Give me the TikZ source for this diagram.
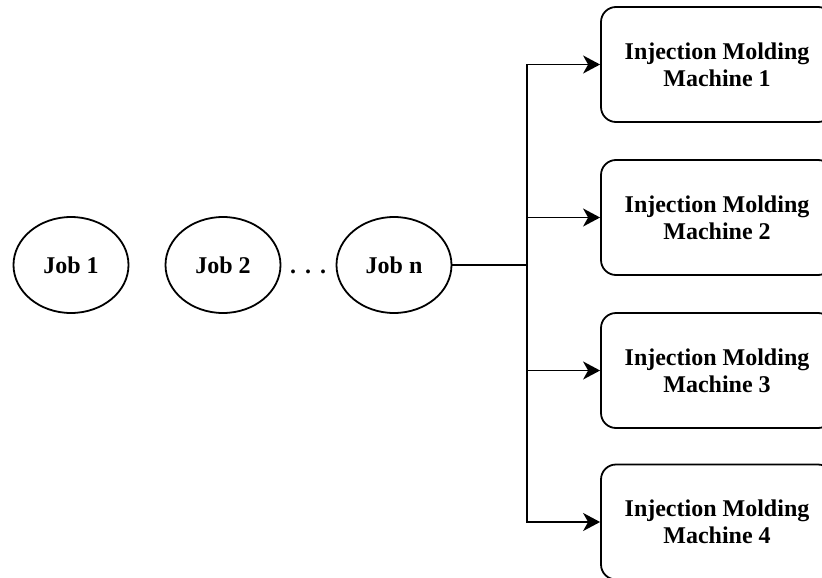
\documentclass[tikz,border=0pt]{standalone}
\usepackage{fontspec}
\setmainfont{Liberation Serif}
\usetikzlibrary{shapes.geometric,arrows.meta}
\begin{document}
\begin{tikzpicture}[x=1pt,y=-1pt,
  lbl/.style={font=\fontsize{24}{27}\selectfont\bfseries},
  job/.style={ellipse,draw,line width=1.8pt,minimum width=115pt,minimum height=96pt,inner sep=0pt,lbl},
  machine/.style={rectangle,rounded corners=15pt,draw,line width=1.8pt,minimum width=232pt,minimum height=115pt,align=center,lbl},
  conn/.style={line width=1.8pt},
  arr/.style={conn,-{Stealth[length=17pt,width=18pt,inset=5pt]}}]
\useasboundingbox (0,0) rectangle (822,578);
\clip (0,0) rectangle (822,578);
\node[job] (j1) at (71,265) {Job 1};
\node[job] (j2) at (223,265) {Job 2};
\node[job] (jn) at (394,265) {Job n};
\node[lbl] (dots) at (308,272) {.\hspace{9pt}.\hspace{9pt}.};
\node[machine] (m1) at (717,64.5) {Injection Molding\\Machine 1};
\node[machine] (m2) at (717,217.5) {Injection Molding\\Machine 2};
\node[machine] (m3) at (717,370.5) {Injection Molding\\Machine 3};
\node[machine] (m4) at (717,522) {Injection Molding\\Machine 4};
\coordinate (split) at (527,265);
\draw[conn] (jn) -- (split);
\draw[arr] (split) |- (m1);
\draw[arr] (split) |- (m2);
\draw[arr] (split) |- (m3);
\draw[arr] (split) |- (m4);
\end{tikzpicture}
\end{document}
